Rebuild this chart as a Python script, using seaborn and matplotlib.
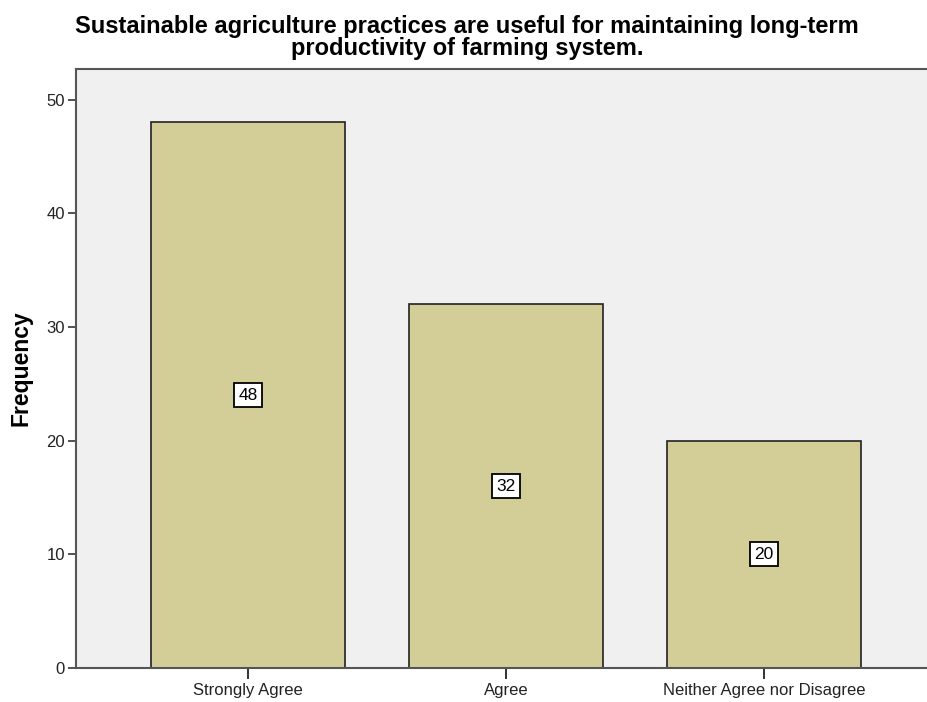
import matplotlib
matplotlib.use("Agg")
from matplotlib import pyplot as plt
import pandas as pd
import seaborn as sns

# Veriler
categories = ["Strongly Agree", "Agree", "Neither Agree nor Disagree"]
frequencies = [48, 32, 20]
y_ticks = [0, 10, 20, 30, 40, 50]

df = pd.DataFrame({"response": categories, "frequency": frequencies})

sns.set_style("white")
plt.rcParams["font.family"] = ["Liberation Sans", "DejaVu Sans"]

fig = plt.figure(figsize=(9.28, 7.02), dpi=100)
ax = fig.add_axes([76 / 928, 34 / 702, 860 / 928, 599 / 702])
ax.set_facecolor("#F0F0F0")

sns.barplot(data=df, x="response", y="frequency", color="#D3CE98",
            saturation=1, width=0.75, edgecolor="#222222", linewidth=1.2, ax=ax)

# Değer etiketleri (kutulu)
ax.bar_label(ax.containers[0], labels=[str(v) for v in frequencies], label_type="center",
             fontsize=12.5, color="black",
             bbox=dict(boxstyle="square,pad=0.25", facecolor="white", edgecolor="black", linewidth=1.3))

ax.set_xlim(-0.667, 2.667)
ax.set_ylim(0, 52.7)
ax.set_yticks(y_ticks)
ax.set_yticklabels([str(t) for t in y_ticks], fontsize=12, color="#222222")
ax.tick_params(axis="y", direction="out", length=6, width=1.3, color="#444444", pad=2, left=True)
ax.tick_params(axis="x", direction="out", length=8, width=1.3, color="#222222", labelsize=12,
               labelcolor="#222222", pad=3, bottom=True)

for side in ["left", "top", "bottom"]:
    ax.spines[side].set_color("#555555")
    ax.spines[side].set_linewidth(1.5)
ax.spines["right"].set_visible(False)

ax.set_xlabel("")
ax.set_ylabel("Frequency", fontsize=16.5, fontweight="bold", color="black", labelpad=10)

fig.suptitle("Sustainable agriculture practices are useful for maintaining long-term\nproductivity of farming system.",
             x=467 / 928, y=0.978, fontsize=17, fontweight="bold", color="black", linespacing=0.92)

fig.savefig("out.png", dpi=100)
